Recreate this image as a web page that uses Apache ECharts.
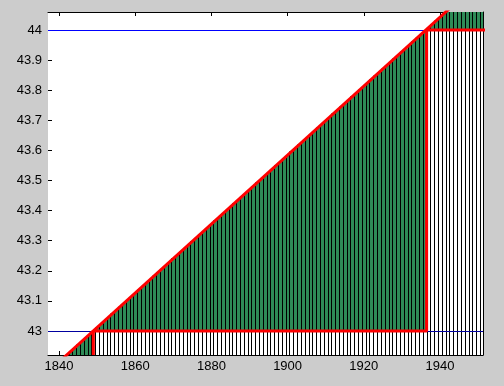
<!DOCTYPE html>
<html><head><meta charset="utf-8">
<script src="https://cdn.jsdelivr.net/npm/echarts@6/dist/echarts.min.js"></script>
<style>html,body{margin:0;padding:0;background:#cccccc;}#chart{width:504px;height:386px;}</style>
</head><body><div id="chart"></div>
<script>
// Axis ranges
const xMin = 1837.1, xMax = 1951.3, yMin = 42.92, yMax = 44.06;
// Tick labels
const xTicks = [1840, 1860, 1880, 1900, 1920, 1940];
const yTicks = [43, 43.1, 43.2, 43.3, 43.4, 43.5, 43.6, 43.7, 43.8, 43.9, 44];
// Bars (one per year)
const years = [1842,1843,1844,1845,1846,1847,1848,1849,1850,1851,1852,1853,1854,1855,1856,1857,1858,1859,
  1860,1861,1862,1863,1864,1865,1866,1867,1868,1869,1870,1871,1872,1873,1874,1875,1876,1877,1878,1879,
  1880,1881,1882,1883,1884,1885,1886,1887,1888,1889,1890,1891,1892,1893,1894,1895,1896,1897,1898,1899,
  1900,1901,1902,1903,1904,1905,1906,1907,1908,1909,1910,1911,1912,1913,1914,1915,1916,1917,1918,1919,
  1920,1921,1922,1923,1924,1925,1926,1927,1928,1929,1930,1931,1932,1933,1934,1935,1936,1937,1938,1939,
  1940,1941,1942,1943,1944,1945,1946,1947,1948,1949,1950,1951];
const barTops = [42.920,42.931,42.943,42.954,42.966,42.977,42.989,43.000,43.011,43.023,43.034,43.046,43.057,43.069,43.080,43.092,43.103,43.115,
  43.126,43.137,43.149,43.160,43.172,43.183,43.195,43.206,43.218,43.229,43.241,43.252,43.263,43.275,43.286,43.298,43.309,43.321,43.332,43.344,
  43.355,43.367,43.378,43.389,43.401,43.412,43.424,43.435,43.447,43.458,43.470,43.481,43.493,43.504,43.515,43.527,43.538,43.550,43.561,43.573,
  43.584,43.596,43.607,43.619,43.630,43.641,43.653,43.664,43.676,43.687,43.699,43.710,43.722,43.733,43.745,43.756,43.767,43.779,43.790,43.802,
  43.813,43.825,43.836,43.848,43.859,43.871,43.882,43.893,43.905,43.916,43.928,43.939,43.951,43.962,43.974,43.985,43.997,44.008,44.019,44.031,
  44.042,44.054,44.065,44.077,44.088,44.100,44.111,44.122,44.134,44.145,44.157,44.168];
// Red diagonal trend line
const trendX = [1838, 1952];
const trendY = [42.874, 44.180];
// Red step outline
const stepX = [1849, 1849, 1936.5, 1936.5, 1952];
const stepY = [42.92, 43, 43, 44, 44];
// Blue reference levels
const refLevels = [43, 44];
const refColors = ['#0000a0', '#0000ff'];

const FONT = "'Liberation Sans', Arial, sans-serif";
const chart = echarts.init(document.getElementById('chart'), null, {renderer: 'canvas'});

const barData = years.map((y, i) => [y, barTops[i]]);
const pairs = (xs, ys) => xs.map((x, i) => [x, ys[i]]);

function geom(params, api) {
  const x = api.value(0), top = api.value(1);
  const cs = params.coordSys;
  const xl = Math.round(api.coord([x - 0.5, yMin])[0]);
  const xr = Math.round(api.coord([x + 0.5, yMin])[0]);
  const yb = api.coord([x, yMin])[1];
  let yt = api.coord([x, top])[1];
  yt = Math.max(yt, cs.y);
  return {xl, xr, yb, yt};
}
function greenItem(params, api) {
  const g = geom(params, api);
  if (g.yb - g.yt <= 0) return null;
  return {type: 'rect', shape: {x: g.xl, y: g.yt, width: g.xr - g.xl, height: g.yb - g.yt},
    style: {fill: '#2e8b57'}};
}
function edgeItem(params, api) {
  const g = geom(params, api);
  if (g.yb - g.yt <= 0) return null;
  return {type: 'group', children: [
    {type: 'line', shape: {x1: g.xl + 0.5, y1: g.yb, x2: g.xl + 0.5, y2: g.yt}, style: {stroke: '#000', lineWidth: 1}},
    {type: 'line', shape: {x1: g.xr + 0.5, y1: g.yb, x2: g.xr + 0.5, y2: g.yt}, style: {stroke: '#000', lineWidth: 1}}
  ]};
}
function refItem(params, api) {
  const cs = params.coordSys;
  const lvl = api.value(1);
  const y = Math.round(api.coord([xMin, lvl])[1]) + 0.5;
  return {type: 'line', shape: {x1: cs.x, y1: y, x2: cs.x + cs.width, y2: y},
    style: {stroke: refColors[params.dataIndex], lineWidth: 1}};
}

const tickStyle = {show: true, inside: true, length: 4, lineStyle: {color: '#000', width: 1}};
const plain = v => String(v);
const option = {
  animation: false,
  backgroundColor: '#cccccc',
  grid: {left: 48, right: 21, top: 12, bottom: 31, show: true, backgroundColor: '#ffffff', borderWidth: 0, containLabel: false},
  xAxis: [
    {type: 'value', position: 'bottom', min: xMin, max: xMax,
     axisLine: {show: true, lineStyle: {color: '#000', width: 1}},
     axisTick: Object.assign({customValues: xTicks}, tickStyle),
     axisLabel: {customValues: xTicks, formatter: plain, color: '#000', fontSize: 13, fontFamily: FONT, margin: 5},
     splitLine: {show: false}},
    {type: 'value', position: 'top', min: xMin, max: xMax,
     axisLine: {show: true, lineStyle: {color: '#000', width: 1}},
     axisTick: Object.assign({customValues: xTicks}, tickStyle),
     axisLabel: {show: false}, splitLine: {show: false}}
  ],
  yAxis: [
    {type: 'value', position: 'left', min: yMin, max: yMax,
     axisLine: {show: false},
     axisTick: Object.assign({customValues: yTicks}, tickStyle),
     axisLabel: {customValues: yTicks, formatter: plain, color: '#000', fontSize: 13, fontFamily: FONT, margin: 6},
     splitLine: {show: false}},
    {type: 'value', position: 'right', min: yMin, max: yMax,
     axisLine: {show: true, lineStyle: {color: '#000', width: 1}},
     axisTick: Object.assign({customValues: yTicks}, tickStyle),
     axisLabel: {show: false}, splitLine: {show: false}}
  ],
  series: [
    {type: 'custom', z: 1, clip: true, renderItem: greenItem, data: barData, silent: true},
    {type: 'line', z: 2, data: pairs(stepX, stepY), symbol: 'none', silent: true,
     lineStyle: {width: 0, opacity: 0}, areaStyle: {color: '#ffffff', opacity: 1, origin: 'start'}},
    {type: 'custom', z: 3, clip: true, renderItem: edgeItem, data: barData, silent: true},
    {type: 'custom', z: 4, clip: true, renderItem: refItem, silent: true,
     data: refLevels.map(v => [xMin, v])},
    {type: 'line', z: 5, data: pairs(stepX, stepY), symbol: 'none', silent: true,
     lineStyle: {color: '#ff0000', width: 3}},
    {type: 'line', z: 5, data: pairs(trendX, trendY), symbol: 'none', silent: true,
     lineStyle: {color: '#ff0000', width: 3}}
  ]
};
chart.setOption(option);
</script>
</body></html>
